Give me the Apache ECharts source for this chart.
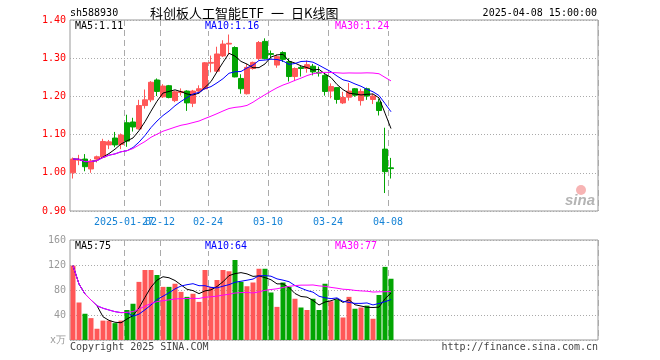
<!DOCTYPE html>
<html><head><meta charset="utf-8">
<script src="https://cdn.jsdelivr.net/npm/echarts/dist/echarts.min.js"></script>
<style>html,body{margin:0;padding:0;background:#fff}#c{width:660px;height:360px}</style>
</head><body><div id="c"></div>
<script>
const dates = ['2025-01-14','2025-01-15','2025-01-16','2025-01-17','2025-01-20','2025-01-21','2025-01-22','2025-01-23','2025-01-24','2025-01-27',
'2025-02-05','2025-02-06','2025-02-07','2025-02-10','2025-02-11','2025-02-12','2025-02-13','2025-02-14','2025-02-17','2025-02-18',
'2025-02-19','2025-02-20','2025-02-21','2025-02-24','2025-02-25','2025-02-26','2025-02-27','2025-02-28','2025-03-03','2025-03-04',
'2025-03-05','2025-03-06','2025-03-07','2025-03-10','2025-03-11','2025-03-12','2025-03-13','2025-03-14','2025-03-17','2025-03-18',
'2025-03-19','2025-03-20','2025-03-21','2025-03-24','2025-03-25','2025-03-26','2025-03-27','2025-03-28','2025-03-31','2025-04-01',
'2025-04-02','2025-04-03','2025-04-07','2025-04-08'];
const opens = [1.000,1.033,1.036,1.010,1.036,1.041,1.073,1.091,1.074,1.131,
1.133,1.115,1.176,1.191,1.243,1.199,1.228,1.189,1.210,1.214,
1.182,1.214,1.220,1.287,1.266,1.306,1.337,1.328,1.247,1.207,
1.273,1.299,1.344,1.312,1.282,1.315,1.291,1.252,1.276,1.273,
1.279,1.263,1.255,1.214,1.223,1.183,1.198,1.220,1.189,1.220,
1.192,1.185,1.062,1.013];
const closes = [1.036,1.035,1.016,1.031,1.042,1.082,1.081,1.073,1.099,1.083,
1.120,1.176,1.191,1.237,1.213,1.227,1.197,1.212,1.213,1.183,
1.214,1.220,1.288,1.289,1.311,1.337,1.339,1.251,1.220,1.276,
1.289,1.341,1.299,1.310,1.304,1.297,1.252,1.273,1.273,1.283,
1.264,1.261,1.213,1.226,1.192,1.197,1.214,1.203,1.213,1.201,
1.201,1.163,1.003,1.011];
const lows = [0.985,1.020,1.004,1.000,1.027,1.038,1.062,1.067,1.062,1.068,
1.108,1.113,1.168,1.185,1.201,1.196,1.195,1.185,1.202,1.162,
1.172,1.210,1.218,1.263,1.262,1.303,1.310,1.250,1.207,1.205,
1.270,1.295,1.297,1.299,1.275,1.290,1.239,1.240,1.252,1.262,
1.255,1.252,1.202,1.195,1.181,1.180,1.189,1.199,1.176,1.191,
1.180,1.150,0.947,0.985];
const highs = [1.040,1.047,1.049,1.036,1.045,1.089,1.086,1.107,1.103,1.152,
1.144,1.191,1.218,1.240,1.247,1.232,1.230,1.215,1.221,1.216,
1.217,1.229,1.290,1.307,1.330,1.347,1.362,1.331,1.258,1.285,
1.291,1.345,1.352,1.320,1.310,1.318,1.300,1.276,1.281,1.294,
1.285,1.278,1.258,1.234,1.224,1.212,1.235,1.222,1.220,1.223,
1.207,1.194,1.118,1.039];
const volumes = [119,60,42,35,18,31,31,27,31,48,
58,93,112,112,104,85,85,90,77,69,
74,61,112,85,96,112,110,128,93,86,
92,114,114,76,53,92,85,66,52,48,
66,48,90,62,65,36,69,50,52,55,
34,72,117,98];
const dateTickIdx = [9,15,23,33,43,53];
const priceMaLabels = ['MA5:1.11','MA10:1.16','MA30:1.24'];
const volMaLabels = ['MA5:75','MA10:64','MA30:77'];
const maPeriods = [5,10,30];
const maColors = ['#000000','#0000ff','#ff00ff'];
const titleParts = ['科创板人工智能ETF','一','日K线图'];
const codeText = 'sh588930';
const timeText = '2025-04-08 15:00:00';

const UP = '#ff5757', DOWN = '#03a503';
const SLOTS = 88;
const cats = dates.slice();
for (let i = dates.length; i < SLOTS; i++) cats.push('pad' + i);

function ma(arr, n) {
  return arr.map((_, i) => {
    const s = Math.max(0, i - n + 1);
    let sum = 0;
    for (let k = s; k <= i; k++) sum += arr[k];
    return +(sum / (i - s + 1)).toFixed(4);
  });
}
const kData = opens.map((o, i) => [o, closes[i], lows[i], highs[i]]);
const isTick = (idx) => dateTickIdx.indexOf(idx) >= 0;
const mono = 'DejaVu Sans Mono';

const dateLabel = (filter) => ({
  interval: filter, hideOverlap: false, color: '#1583d6', fontFamily: mono, fontSize: 10, margin: 6,
  padding: [0, 6, 0, 0],
  formatter: (v, idx) => idx === dateTickIdx[0] ? v : v.slice(5)
});
const xBase = (gi, label, split) => ({
  type: 'category', gridIndex: gi, data: cats, boundaryGap: true, position: 'bottom', offset: 0,
  axisLine: {show: false}, axisTick: {show: false},
  axisLabel: label || {show: false},
  splitLine: {show: split, interval: (idx) => isTick(idx), lineStyle: {color: '#aaaaaa', type: [6, 4], width: 1}}
});

const series = [
  {type: 'candlestick', xAxisIndex: 0, yAxisIndex: 0, data: kData, barWidth: 5,
   itemStyle: {color: UP, color0: DOWN, borderColor: UP, borderColor0: DOWN, borderWidth: 1}}
];
maPeriods.forEach((n, k) => series.push({type: 'line', xAxisIndex: 0, yAxisIndex: 0, data: ma(closes, n),
  showSymbol: false, symbol: 'none', lineStyle: {color: maColors[k], width: 1}, z: 3}));
series.push({type: 'bar', xAxisIndex: 1, yAxisIndex: 1, data: volumes, barWidth: 5,
  itemStyle: {color: (p) => closes[p.dataIndex] >= opens[p.dataIndex] ? UP : DOWN}});
maPeriods.forEach((n, k) => series.push({type: 'line', xAxisIndex: 1, yAxisIndex: 1, data: ma(volumes, n),
  showSymbol: false, symbol: 'none', lineStyle: {color: maColors[k], width: 1}, z: 3}));

const txt = (x, y, text, fill, extra) => Object.assign({type: 'text', x: x, y: y, z: 100,
  style: Object.assign({text: text, fill: fill, font: '10px ' + mono, textAlign: 'left', textVerticalAlign: 'middle'}, extra || {})});

const cjk = '13px "Noto Sans CJK SC"';
const graphics = [
  txt(70, 13, codeText, '#000'),
  txt(150, 13, titleParts[0], '#000', {font: cjk}),
  txt(271, 13, titleParts[1], '#000', {font: cjk}),
  txt(291, 13, titleParts[2], '#000', {font: cjk}),
  txt(597, 13, timeText, '#000', {textAlign: 'right'}),
  txt(75, 26, priceMaLabels[0], maColors[0], {backgroundColor: '#fff'}),
  txt(205, 26, priceMaLabels[1], maColors[1], {backgroundColor: '#fff'}),
  txt(335, 26, priceMaLabels[2], maColors[2], {backgroundColor: '#fff'}),
  txt(75, 246, volMaLabels[0], maColors[0], {backgroundColor: '#fff'}),
  txt(205, 246, volMaLabels[1], maColors[1], {backgroundColor: '#fff'}),
  txt(335, 246, volMaLabels[2], maColors[2], {backgroundColor: '#fff'}),
  txt(70, 347, 'Copyright 2025 SINA.COM', '#444'),
  txt(598, 347, 'http://finance.sina.com.cn', '#444', {textAlign: 'right'}),
  {type: 'circle', shape: {cx: 581, cy: 190, r: 5}, style: {fill: '#f7b4b4'}, z: 100},
  txt(565, 201, 'sina', '#b4b4b4', {font: 'italic bold 15px "Liberation Sans"'})
];

const chart = echarts.init(document.getElementById('c'), null, {renderer: 'canvas'});
chart.setOption({
  animation: false,
  backgroundColor: '#fff',
  grid: [
    {left: 70, top: 20, width: 528, height: 191, show: true, borderColor: '#999', borderWidth: 1},
    {left: 70, top: 240, width: 528, height: 100, show: true, borderColor: '#999', borderWidth: 1}
  ],
  xAxis: [
    xBase(0, dateLabel((idx) => isTick(idx) && idx !== dateTickIdx[0]), true),
    xBase(1, null, true),
    xBase(0, dateLabel((idx) => idx === dateTickIdx[0]), false)
  ],
  yAxis: [
    {type: 'value', gridIndex: 0, min: 0.9, max: 1.4, interval: 0.1, scale: true,
     axisLine: {show: false}, axisTick: {show: false},
     axisLabel: {color: '#ff0000', fontFamily: mono, fontSize: 10, margin: 4, formatter: (v) => v.toFixed(2)},
     splitLine: {show: true, lineStyle: {color: '#aaaaaa', type: [1, 2]}}},
    {type: 'value', gridIndex: 1, min: 0, max: 160, interval: 40,
     axisLine: {show: false}, axisTick: {show: false},
     axisLabel: {color: '#999', fontFamily: mono, fontSize: 10, margin: 4, formatter: (v) => v === 0 ? 'x万' : String(v)},
     splitLine: {show: true, lineStyle: {color: '#aaaaaa', type: [1, 2]}}}
  ],
  series: series,
  graphic: graphics
});
</script></body></html>
